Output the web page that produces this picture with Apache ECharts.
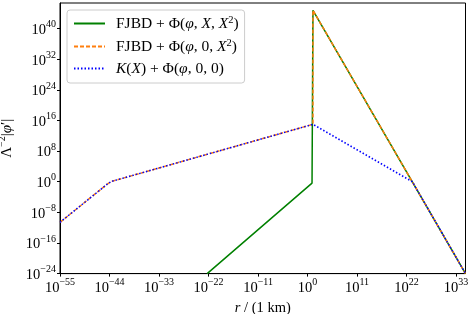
<!DOCTYPE html>
<html>
<head>
<meta charset="utf-8">
<script src="https://cdn.jsdelivr.net/npm/echarts@6/dist/echarts.min.js"></script>
<style>
html,body{margin:0;padding:0;background:#fff;}
#c{width:471px;height:314px;}
</style>
</head>
<body>
<div id="c"></div>
<script>
// ---- data (r in km, y = Λ^-2|φ'|) ----
const greenX = [5e-23, 1e1, 1.6e1, 1.6e1, 1.26e35];
const greenY = [1e-24, 0.45, 0.55, 6.3e44, 1e-24];

const orangeX = [1e-55, 3.2e-45, 1e-44, 3.2e-44, 1.6e1, 1.6e1, 1.26e35];
const orangeY = [2.5e-11, 0.24, 0.56, 1.26, 1e15, 6.3e44, 1e-24];

const blueX = [1e-55, 3.2e-45, 1e-44, 3.2e-44, 1.6e1, 2e23, 1.26e35];
const blueY = [2.5e-11, 0.24, 0.56, 1.26, 1e15, 1, 1e-24];

const seriesNames = ['FJBD + Φ(φ, X, X²)', 'FJBD + Φ(φ, 0, X²)', 'K(X) + Φ(φ, 0, 0)'];
const legendRich = [
  '{n|FJBD + Φ(}{i|φ}{n|, }{i|X}{n|, }{i|X}{s|2}{n|)}',
  '{n|FJBD + Φ(}{i|φ}{n|, 0, }{i|X}{s|2}{n|)}',
  '{i|K}{n|(}{i|X}{n|) + Φ(}{i|φ}{n|, 0, 0)}'
];

// axis ranges (decades)
const xMinExp = -55, xMaxExp = 35.1, xStepDecades = 11;
const yMinExp = -24, yMaxExp = 46.7, yStepDecades = 8;

// log-log: positions are log10 of the values, on a linear decade scale
function zipLog(xs, ys) { return xs.map((x, i) => [Math.log10(x), Math.log10(ys[i])]); }

const FONT = '"Liberation Serif", "DejaVu Serif", serif';
function expLabel(v) {
  const e = Math.round(v);
  const s = e < 0 ? '−' + (-e) : String(e);
  return '{b|10}{s|' + s + '}';
}
const tickRich = {
  b: { fontFamily: FONT, fontSize: 14.5, color: '#000', lineHeight: 18, verticalAlign: 'bottom' },
  s: { fontFamily: FONT, fontSize: 10, color: '#000', lineHeight: 10, verticalAlign: 'top' }
};

const chart = echarts.init(document.getElementById('c'), null, { renderer: 'canvas' });
chart.setOption({
  animation: false,
  backgroundColor: '#fff',
  grid: { left: 60, right: 5.5, top: 3, bottom: 40.4, show: true, borderColor: '#000', borderWidth: 1,
          containLabel: false, outerBoundsMode: 'none' },
  xAxis: {
    type: 'value', min: xMinExp, max: xMaxExp, interval: xStepDecades,
    name: '{i|r}{n| / (1 km)}', nameLocation: 'middle', nameGap: 24,
    nameTextStyle: { rich: {
      i: { fontFamily: FONT, fontSize: 14.5, fontStyle: 'italic', color: '#000' },
      n: { fontFamily: FONT, fontSize: 14.5, color: '#000' } } },
    axisLine: { show: true, onZero: false, lineStyle: { color: '#000', width: 1 } },
    axisTick: { show: true, length: 3, inside: false, lineStyle: { color: '#000' } },
    splitLine: { show: false },
    axisLabel: { margin: 4, showMaxLabel: false, formatter: expLabel, rich: tickRich }
  },
  yAxis: {
    type: 'value', min: yMinExp, max: yMaxExp, interval: yStepDecades,
    name: '{n|Λ}{s|−2}{n||}{i|φ}{n|′|}', nameLocation: 'middle', nameGap: 45, nameRotate: 90,
    nameTextStyle: { rich: {
      i: { fontFamily: FONT, fontSize: 15, fontStyle: 'italic', color: '#000', lineHeight: 18, verticalAlign: 'bottom' },
      n: { fontFamily: FONT, fontSize: 15, color: '#000', lineHeight: 18, verticalAlign: 'bottom' },
      s: { fontFamily: FONT, fontSize: 10, color: '#000', lineHeight: 10, verticalAlign: 'top' } } },
    axisLine: { show: true, onZero: false, lineStyle: { color: '#000', width: 1 } },
    axisTick: { show: true, length: 3, inside: false, lineStyle: { color: '#000' } },
    splitLine: { show: false },
    axisLabel: { margin: 4, showMaxLabel: false, formatter: expLabel, rich: tickRich, align: 'right' }
  },
  legend: {
    orient: 'vertical', left: 67, top: 10,
    padding: [5, 6, 6, 6],
    itemWidth: 31, itemHeight: 10, itemGap: 6,
    backgroundColor: 'rgba(255,255,255,0.8)',
    borderColor: '#cccccc', borderWidth: 1, borderRadius: 3,
    itemStyle: { opacity: 0, borderWidth: 0 },
    data: seriesNames,
    formatter: function (name) { return legendRich[seriesNames.indexOf(name)]; },
    textStyle: {
      padding: [0, 0, 0, 6],
      rich: {
        n: { fontFamily: FONT, fontSize: 15.5, color: '#000', lineHeight: 17, verticalAlign: 'bottom' },
        i: { fontFamily: FONT, fontSize: 15.5, fontStyle: 'italic', color: '#000', lineHeight: 17, verticalAlign: 'bottom' },
        s: { fontFamily: FONT, fontSize: 10.5, color: '#000', lineHeight: 10, verticalAlign: 'top' }
      }
    }
  },
  series: [
    { name: seriesNames[0], type: 'line', data: zipLog(greenX, greenY), showSymbol: false, symbol: 'none',
      lineStyle: { color: '#008000', width: 1.5, type: 'solid' }, itemStyle: { color: '#008000' }, z: 2 },
    { name: seriesNames[1], type: 'line', data: zipLog(orangeX, orangeY), showSymbol: false, symbol: 'none',
      lineStyle: { color: '#ff7f0e', width: 1.5, type: [4, 2] }, itemStyle: { color: '#ff7f0e' }, z: 3 },
    { name: seriesNames[2], type: 'line', data: zipLog(blueX, blueY), showSymbol: false, symbol: 'none',
      lineStyle: { color: '#0000ff', width: 1.5, type: [1.5, 2] }, itemStyle: { color: '#0000ff' }, z: 4 }
  ]
});
</script>
</body>
</html>
